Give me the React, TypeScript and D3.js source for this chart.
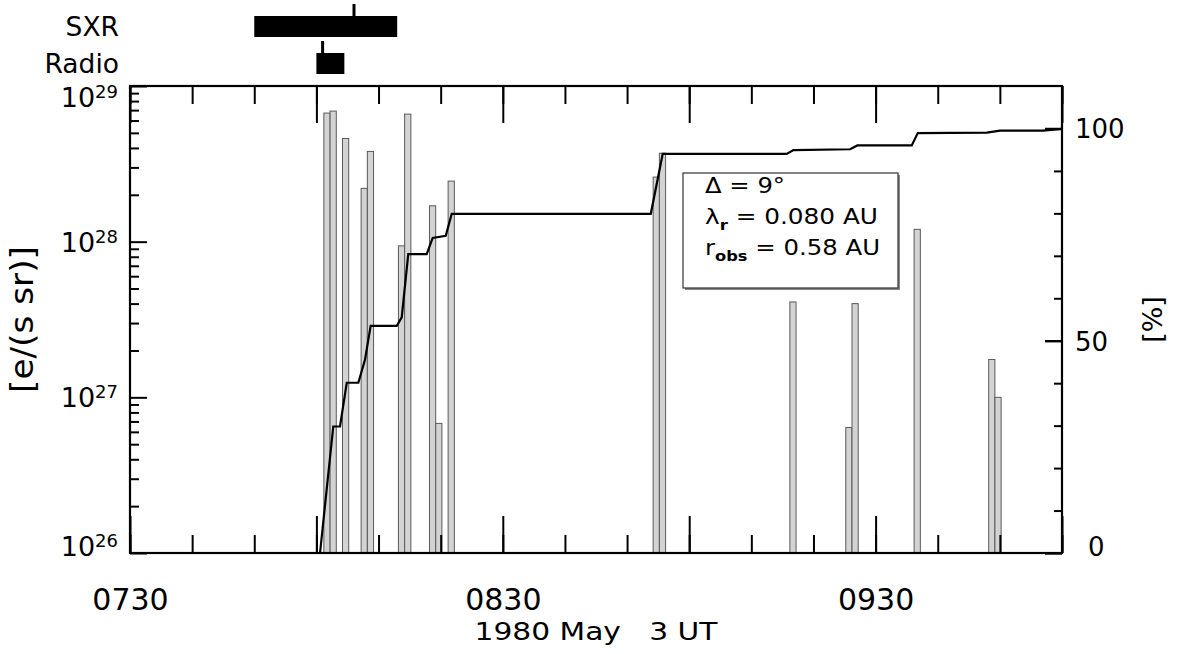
import React, { useEffect, useRef } from 'react';
import * as d3 from 'd3';

const W = 1179;
const H = 654;
const DAY = '1980-05-03';

// electron injection histogram, 1-min bins (bin start UT) and rate [e/(s sr)]
const binStart = ['08:01:12', '08:02:12', '08:04:12', '08:07:12', '08:08:12', '08:13:12', '08:14:12', '08:18:12', '08:19:12', '08:21:12', '08:54:12', '08:55:12', '09:16:12', '09:25:12', '09:26:12', '09:36:12', '09:48:12', '09:49:12'];
const binRate = [6.7e28, 6.9e28, 4.6e28, 2.2e28, 3.8e28, 9.4e27, 6.6e28, 1.7e28, 6.8e26, 2.45e28, 2.6e28, 3.7e28, 4.1e27, 6.4e26, 4.0e27, 1.2e28, 1.75e27, 1.0e27];

// cumulative injected fraction [%]
const cumTime = ['07:30:00', '08:00:35', '08:02:43', '08:03:48', '08:04:53', '08:06:45', '08:07:49', '08:08:44', '08:12:56', '08:13:44', '08:14:47', '08:17:45', '08:18:43', '08:20:49', '08:21:47', '08:53:49', '08:55:44', '09:15:42', '09:16:46', '09:25:54', '09:27:04', '09:35:49', '09:36:47', '09:47:54', '09:50:02', '09:56:57', '10:00:00'];
const cumPct = [0, 0, 29.8, 29.8, 40.1, 40.1, 45.5, 53.5, 53.5, 55.5, 70.4, 70.4, 74.2, 74.7, 79.9, 79.9, 94.0, 94.0, 94.9, 95.1, 96.0, 96.0, 98.9, 99.0, 99.5, 99.5, 99.9];

// burst intervals: [start, end, peak]
const burstNames = ['SXR', 'Radio'];
const burstSpans = [['07:50:00', '08:13:00', '08:06:03'], ['08:00:00', '08:04:30', '08:01:00']];

const logTicks = [1e26, 1e27, 1e28, 1e29];
const pctTicks = [0, 50, 100];
const xLabel = '1980 May   3 UT';

const t = (s: string) => new Date(`${DAY}T${s}Z`);
const FONT = '"DejaVu Sans", sans-serif';

const App = () => {
  const svgRef = useRef<SVGSVGElement>(null);

  useEffect(() => {
    const margin = { top: 86, right: W - 1062, bottom: H - 553, left: 130 };
    const left = margin.left, right = W - margin.right;
    const top = margin.top, bottom = H - margin.bottom;

    const svg = d3.select(svgRef.current);
    svg.selectAll('*').remove();
    svg.style('font-family', FONT);

    const x = d3.scaleUtc().domain([t('07:30:00'), t('10:00:00')]).range([left, right]);
    const y = d3.scaleLog().domain([1e26, 1e29]).range([bottom, top]);
    const yp = d3.scaleLinear().domain([0, 110]).range([bottom, top]);

    // Bars
    const bins = binStart.map((s, i) => ({ t0: t(s), v: binRate[i] }));
    svg.append('g').selectAll('rect')
      .data(bins)
      .enter()
      .append('rect')
      .attr('x', d => x(d.t0))
      .attr('width', d => x(d3.utcMinute.offset(d.t0, 1)) - x(d.t0))
      .attr('y', d => y(d.v))
      .attr('height', d => bottom - y(d.v))
      .attr('fill', '#d3d3d3')
      .attr('stroke', '#5a5a5a')
      .attr('stroke-width', 1);

    // Cumulative line
    const cum = cumTime.map((s, i) => ({ t: t(s), p: cumPct[i] }));
    svg.append('path')
      .datum(cum)
      .attr('fill', 'none')
      .attr('stroke', '#000')
      .attr('stroke-width', 2.2)
      .attr('d', d3.line<{ t: Date; p: number }>().x(d => x(d.t)).y(d => yp(d.p)));

    // Time axes (bottom and top), ticks pointing inward
    const fmt = d3.utcFormat('%H%M');
    const timeAxis = (g: any, gen: any) => g.call(gen).call((s: any) => s.select('.domain').remove())
      .call((s: any) => s.selectAll('.tick line').attr('stroke', '#000').attr('stroke-width', 2));
    svg.append('g').attr('transform', `translate(0,${bottom})`)
      .call((g: any) => timeAxis(g, d3.axisBottom(x).ticks(d3.utcMinute.every(10)).tickSizeInner(-18).tickSizeOuter(0).tickFormat(() => '')));
    svg.append('g').attr('transform', `translate(0,${bottom})`)
      .call((g: any) => timeAxis(g, d3.axisBottom(x).ticks(d3.utcMinute.every(30)).tickSizeInner(-37).tickSizeOuter(0).tickPadding(36)
        .tickFormat((d: any) => (d.getUTCMinutes() === 30 ? fmt(d) : ''))))
      .call((g: any) => g.selectAll('text').attr('fill', '#000').style('font-size', '30px').style('font-family', FONT));
    svg.append('g').attr('transform', `translate(0,${top})`)
      .call((g: any) => timeAxis(g, d3.axisTop(x).ticks(d3.utcMinute.every(10)).tickSizeInner(-18).tickSizeOuter(0).tickFormat(() => '')));
    svg.append('g').attr('transform', `translate(0,${top})`)
      .call((g: any) => timeAxis(g, d3.axisTop(x).ticks(d3.utcMinute.every(30)).tickSizeInner(-37).tickSizeOuter(0).tickFormat(() => '')));

    // Left log axis
    const minor: number[] = [];
    for (let e = 26; e < 29; e++) for (let m = 2; m <= 9; m++) minor.push(m * 10 ** e);
    svg.append('g').attr('transform', `translate(${left},0)`)
      .call(d3.axisRight(y).tickValues(minor).tickSizeInner(9).tickSizeOuter(0).tickFormat(() => ''))
      .call(g => g.select('.domain').remove())
      .call(g => g.selectAll('.tick line').attr('stroke', '#000').attr('stroke-width', 2));
    svg.append('g').attr('transform', `translate(${left},0)`)
      .call(d3.axisRight(y).tickValues(logTicks).tickSizeInner(17).tickSizeOuter(0).tickFormat(() => ''))
      .call(g => g.select('.domain').remove())
      .call(g => g.selectAll('.tick line').attr('stroke', '#000').attr('stroke-width', 2));

    const base = (v: number) => Math.max(107, Math.min(556, v + 10));
    const ll = svg.append('g').selectAll('text')
      .data(logTicks)
      .enter()
      .append('text')
      .attr('x', left - 12)
      .attr('y', d => base(y(d)))
      .attr('text-anchor', 'end')
      .style('font-size', '27px');
    ll.append('tspan').text('10');
    ll.append('tspan').attr('dy', -9).style('font-size', '18px').text(d => String(Math.round(Math.log10(d))));

    // Right percent axis
    const pMinor = d3.range(10, 110, 10).filter(v => v % 50 !== 0);
    svg.append('g').attr('transform', `translate(${right},0)`)
      .call(d3.axisLeft(yp).tickValues(pMinor).tickSizeInner(8).tickSizeOuter(0).tickFormat(() => ''))
      .call(g => g.select('.domain').remove())
      .call(g => g.selectAll('.tick line').attr('stroke', '#000').attr('stroke-width', 2));
    svg.append('g').attr('transform', `translate(${right},0)`)
      .call(d3.axisLeft(yp).tickValues(pctTicks).tickSizeInner(17).tickSizeOuter(0).tickFormat(() => ''))
      .call(g => g.select('.domain').remove())
      .call(g => g.selectAll('.tick line').attr('stroke', '#000').attr('stroke-width', 2.4));
    svg.append('g').selectAll('text')
      .data(pctTicks)
      .enter()
      .append('text')
      .attr('x', d => right + (d === 0 ? 26 : 13))
      .attr('y', d => base(yp(d)))
      .style('font-size', '26px')
      .text(d => d);

    // Frame
    svg.append('rect')
      .attr('x', left).attr('y', top)
      .attr('width', right - left).attr('height', bottom - top)
      .attr('fill', 'none').attr('stroke', '#000').attr('stroke-width', 2.2);

    // Axis titles
    svg.append('text')
      .attr('transform', `translate(${left - 97},${(top + bottom) / 2}) rotate(-90)`)
      .attr('text-anchor', 'middle')
      .attr('textLength', 147).attr('lengthAdjust', 'spacingAndGlyphs')
      .style('font-size', '32px')
      .text('[e/(s sr)]');
    svg.append('text')
      .attr('transform', `translate(${right + 100},${(top + bottom) / 2}) rotate(-90)`)
      .attr('text-anchor', 'middle')
      .style('font-size', '27px')
      .text('[%]');
    svg.append('text')
      .attr('x', (left + right) / 2)
      .attr('y', 640)
      .attr('text-anchor', 'middle')
      .attr('textLength', 243).attr('lengthAdjust', 'spacingAndGlyphs')
      .style('white-space', 'pre')
      .style('font-size', '25px')
      .text(xLabel);

    // SXR / Radio bursts
    const rowTop = [16, 53];
    burstSpans.forEach((sp, i) => {
      const [a, b, pk] = sp.map(t);
      svg.append('rect')
        .attr('x', x(a)).attr('y', rowTop[i])
        .attr('width', x(b) - x(a)).attr('height', 21)
        .attr('fill', '#000');
      svg.append('line')
        .attr('x1', x(pk)).attr('x2', x(pk))
        .attr('y1', rowTop[i] - 12).attr('y2', rowTop[i])
        .attr('stroke', '#000').attr('stroke-width', 3);
      svg.append('text')
        .attr('x', 119).attr('y', rowTop[i] + 20)
        .attr('text-anchor', 'end')
        .style('font-size', '26.5px')
        .text(burstNames[i]);
    });

    // Parameter box
    const bx = 683, by = 173, bw = 215, bh = 115;
    svg.append('rect').attr('x', bx + 2).attr('y', by + 2).attr('width', bw).attr('height', bh).attr('fill', '#888');
    svg.append('rect').attr('x', bx).attr('y', by).attr('width', bw).attr('height', bh)
      .attr('fill', '#fff').attr('stroke', '#333').attr('stroke-width', 1.2);
    const lines = [
      { parts: [['Δ = 9°', 0]], len: 80 },
      { parts: [['λ', 0], ['r', 1], [' = 0.080 AU', 0]], len: 173 },
      { parts: [['r', 0], ['obs', 1], [' = 0.58 AU', 0]], len: 175 }
    ];
    lines.forEach((ln, i) => {
      const txt = svg.append('text')
        .attr('x', bx + 22).attr('y', by + 20 + 31 * i)
        .attr('textLength', ln.len).attr('lengthAdjust', 'spacingAndGlyphs')
        .style('white-space', 'pre')
        .style('font-size', '21px');
      let shift = 0;
      ln.parts.forEach(([s, sub]) => {
        const dy = (sub ? 6 : 0) - shift;
        shift = sub ? 6 : 0;
        txt.append('tspan').attr('dy', dy).style('font-size', sub ? '14px' : '21px')
          .style('font-weight', sub ? 'bold' : 'normal').text(s as string);
      });
    });
  }, []);

  return (
    <svg ref={svgRef} width={W} height={H}
      style={{ position: 'absolute', left: 0, top: 0, background: '#fff' }} />
  );
};

export default App;
